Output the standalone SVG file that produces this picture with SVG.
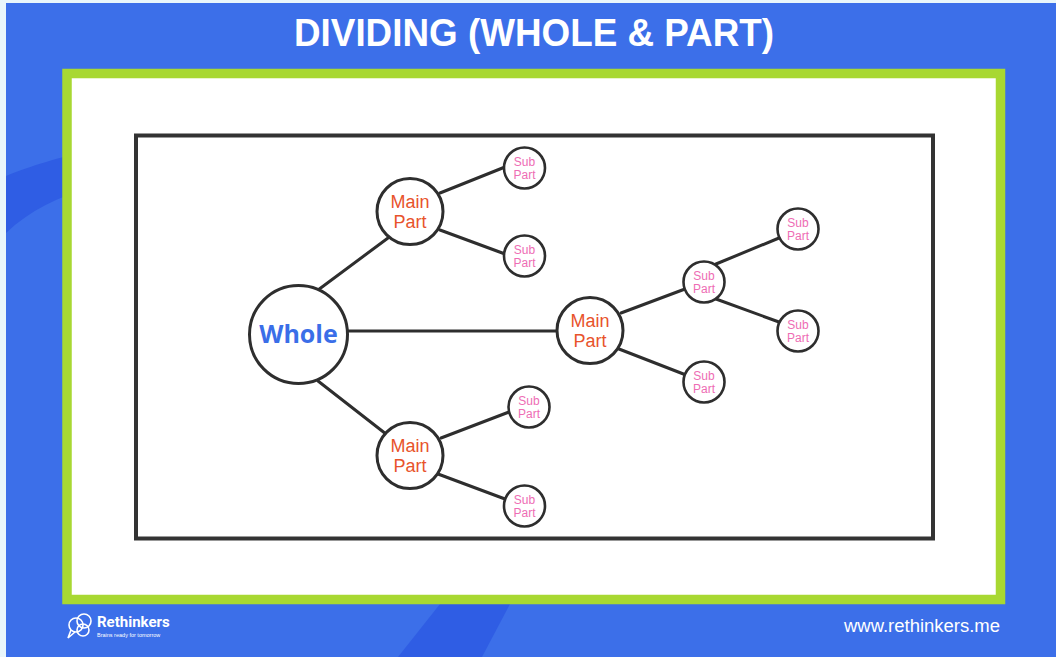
<svg xmlns="http://www.w3.org/2000/svg" width="1056" height="657" viewBox="0 0 1056 657">
<style>
.edge{stroke:#2e2e2e;stroke-width:3;stroke-linecap:round;fill:none}
.whole{fill:#fff;stroke:#2e2e2e;stroke-width:3}
.main{fill:#fff;stroke:#2e2e2e;stroke-width:3}
.sub{fill:#fff;stroke:#2e2e2e;stroke-width:2.6}
.tw{font-family:"Open Sans","Noto Sans",sans-serif;font-weight:700;font-size:25px;fill:#3a6ee8;text-anchor:middle}
.tm{font-family:"Liberation Sans",Arial,sans-serif;font-size:18px;fill:#e8532b;text-anchor:middle}
.ts{font-family:"Liberation Sans",Arial,sans-serif;font-size:12px;fill:#ee6db4;text-anchor:middle}
</style>
<rect x="0" y="0" width="1056" height="657" fill="#e9f6fb"/>
<rect x="6" y="3" width="1050" height="654" fill="#3c6fe9"/>
<path d="M6 233 C 30 210 60 196 90 188 L 90 150 C 50 160 25 168 6 176 Z" fill="#2f5de4"/>
<path d="M440 604 L 510 604 L 482 657 L 398 657 Z" fill="#2f5de4"/>
<text x="534" y="46" font-family="Liberation Sans,Arial,sans-serif" font-weight="700" font-size="38" fill="#ffffff" text-anchor="middle" textLength="480" lengthAdjust="spacingAndGlyphs">DIVIDING (WHOLE &amp; PART)</text>
<rect x="67" y="73.5" width="933.5" height="526" fill="#ffffff" stroke="#a8d832" stroke-width="9.5"/>
<rect x="136" y="135.5" width="797" height="403" fill="#ffffff" stroke="#333333" stroke-width="4"/>
<g id="connectors">
<line class="edge" x1="318" y1="290" x2="388" y2="238"/>
<line class="edge" x1="348" y1="331" x2="557" y2="331"/>
<line class="edge" x1="318" y1="381" x2="386" y2="434"/>
<line class="edge" x1="440" y1="193" x2="505" y2="167"/>
<line class="edge" x1="440" y1="230" x2="505" y2="254"/>
<line class="edge" x1="621" y1="313" x2="685" y2="289"/>
<line class="edge" x1="619" y1="349" x2="686" y2="375"/>
<line class="edge" x1="716" y1="264" x2="779" y2="238"/>
<line class="edge" x1="716" y1="299" x2="779" y2="322"/>
<line class="edge" x1="441" y1="438" x2="509" y2="412"/>
<line class="edge" x1="438" y1="474" x2="505" y2="499"/>
</g>
<g id="whole"><circle class="whole" cx="298.5" cy="334.5" r="49"/><text class="tw" x="298.5" y="343">Whole</text></g>
<g id="main1"><circle class="main" cx="410" cy="211.5" r="33"/><text class="tm" x="410" y="208">Main</text><text class="tm" x="410" y="228">Part</text></g>
<g id="main2"><circle class="main" cx="590" cy="330.5" r="33"/><text class="tm" x="590" y="327">Main</text><text class="tm" x="590" y="347">Part</text></g>
<g id="main3"><circle class="main" cx="410" cy="455.5" r="33"/><text class="tm" x="410" y="452">Main</text><text class="tm" x="410" y="472">Part</text></g>
<g id="sub1"><circle class="sub" cx="524.5" cy="168" r="20.5"/><text class="ts" x="524.5" y="166">Sub</text><text class="ts" x="524.5" y="179">Part</text></g>
<g id="sub2"><circle class="sub" cx="524.5" cy="256" r="20.5"/><text class="ts" x="524.5" y="254">Sub</text><text class="ts" x="524.5" y="267">Part</text></g>
<g id="sub3"><circle class="sub" cx="704" cy="282" r="20.5"/><text class="ts" x="704" y="280">Sub</text><text class="ts" x="704" y="293">Part</text></g>
<g id="sub4"><circle class="sub" cx="798" cy="229" r="20.5"/><text class="ts" x="798" y="227">Sub</text><text class="ts" x="798" y="240">Part</text></g>
<g id="sub5"><circle class="sub" cx="798" cy="331" r="20.5"/><text class="ts" x="798" y="329">Sub</text><text class="ts" x="798" y="342">Part</text></g>
<g id="sub6"><circle class="sub" cx="704" cy="382" r="20.5"/><text class="ts" x="704" y="380">Sub</text><text class="ts" x="704" y="393">Part</text></g>
<g id="sub7"><circle class="sub" cx="529" cy="407" r="20.5"/><text class="ts" x="529" y="405">Sub</text><text class="ts" x="529" y="418">Part</text></g>
<g id="sub8"><circle class="sub" cx="524.5" cy="506" r="20.5"/><text class="ts" x="524.5" y="504">Sub</text><text class="ts" x="524.5" y="517">Part</text></g>
<g id="logo">
<g fill="none" stroke="#ffffff" stroke-width="1.6">
<circle cx="76" cy="625" r="7"/>
<circle cx="84" cy="621" r="7"/>
<circle cx="83" cy="630" r="6"/>
<path d="M71 630 L 68 638 L 75 632"/>
</g>
<text x="97" y="627" font-family="Roboto,Liberation Sans,sans-serif" font-weight="700" font-size="15" fill="#ffffff">Rethinkers</text>
<text x="97" y="637" font-family="Liberation Sans,sans-serif" font-size="5.5" fill="#ffffff">Brains ready for tomorrow</text>
</g>
<text x="844" y="632" font-family="Liberation Sans,Arial,sans-serif" font-size="18" fill="#ffffff" textLength="156" lengthAdjust="spacingAndGlyphs">www.rethinkers.me</text>
</svg>
